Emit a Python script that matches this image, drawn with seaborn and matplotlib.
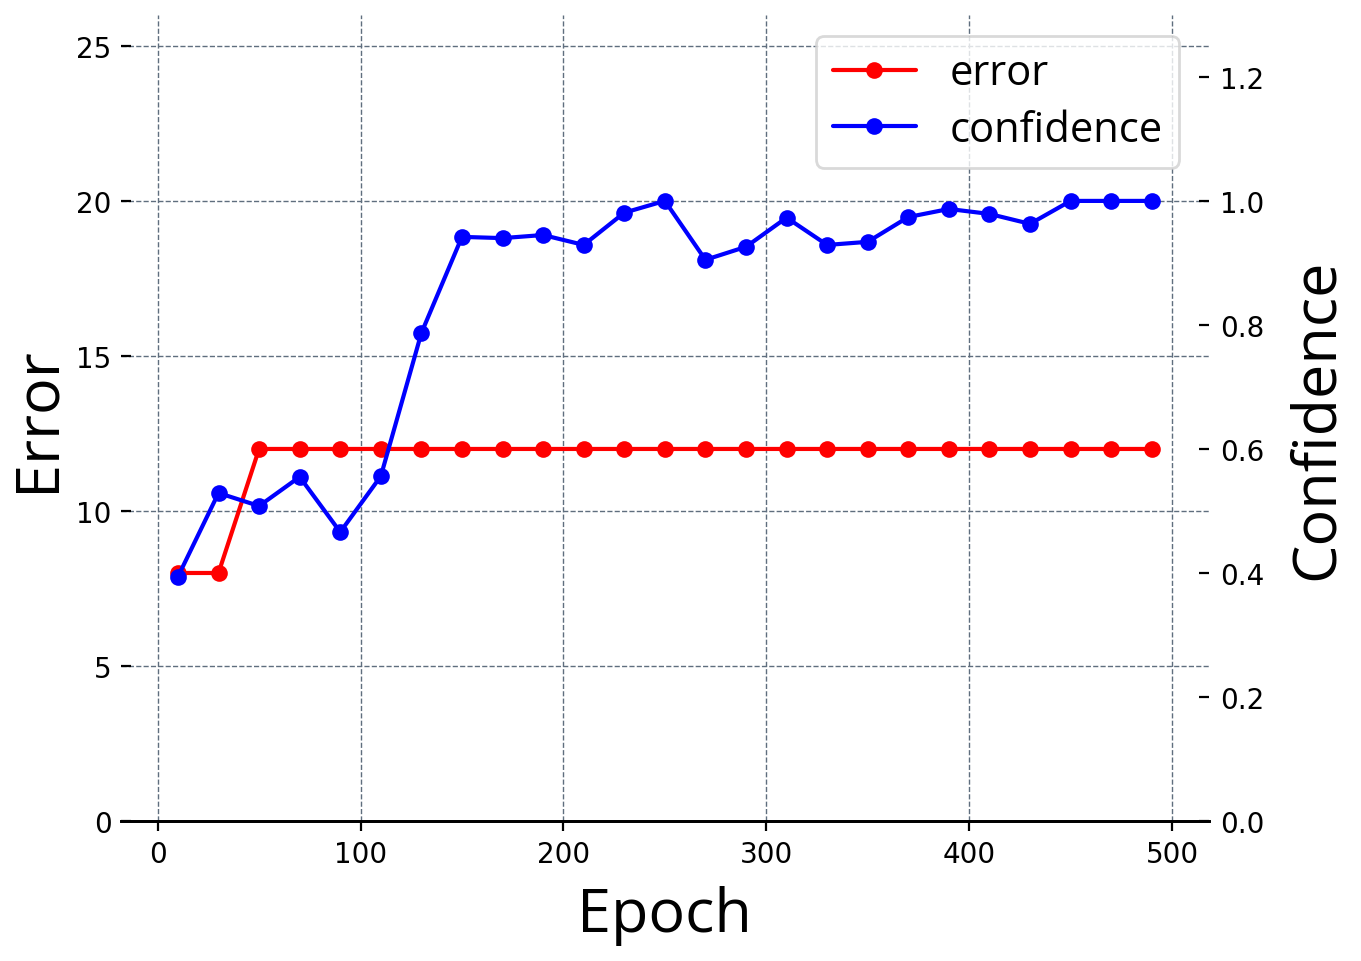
import numpy as np
import pandas as pd
import matplotlib.pyplot as plt
import seaborn as sns
from matplotlib.lines import Line2D

epochs = [10, 30, 50, 70, 90, 110, 130, 150, 170, 190, 210, 230, 250,
          270, 290, 310, 330, 350, 370, 390, 410, 430, 450, 470, 490]
error = [8, 8, 12, 12, 12, 12, 12, 12, 12, 12, 12, 12, 12,
         12, 12, 12, 12, 12, 12, 12, 12, 12, 12, 12, 12]
confidence = [0.394, 0.529, 0.508, 0.555, 0.466, 0.556, 0.787, 0.942, 0.940,
              0.945, 0.929, 0.981, 1.0, 0.905, 0.926, 0.973, 0.929, 0.934,
              0.974, 0.987, 0.979, 0.963, 1.0, 1.0, 1.0]

df = pd.DataFrame({'Epoch': epochs, 'error': error, 'confidence': confidence})

sns.set_style('white')
plt.rcParams['font.family'] = ['DejaVu Sans']
for key in ('text.color', 'axes.labelcolor', 'xtick.color', 'ytick.color'):
    plt.rcParams[key] = 'black'
label_font = ['Open Sans', 'DejaVu Sans']

fig = plt.figure(figsize=(6.805, 4.81), dpi=200)
ax = fig.add_axes([0.089, 0.1455, 0.799, 0.838])
ax2 = ax.twinx()

ms = 6
sns.lineplot(data=df, x='Epoch', y='error', ax=ax, color='red', marker='o',
             markersize=ms, markeredgewidth=0, linewidth=1.5)
sns.lineplot(data=df, x='Epoch', y='confidence', ax=ax2, color='blue', marker='o',
             markersize=ms, markeredgewidth=0, linewidth=1.5)

ax.set_xlim(-18, 518)
ax.set_ylim(0, 26)
ax2.set_ylim(0, 1.3)
ax.set_xticks([0, 100, 200, 300, 400, 500])
ax.set_yticks([0, 5, 10, 15, 20, 25])
ax2.set_yticks([0.0, 0.2, 0.4, 0.6, 0.8, 1.0, 1.2])

ax.grid(True, linestyle='--', linewidth=0.5, color='#5f6e7e')
ax2.grid(False)

for a in (ax, ax2):
    for side in ('top', 'left', 'right'):
        a.spines[side].set_visible(False)
    a.spines['bottom'].set_linewidth(1.0)
    a.spines['bottom'].set_color('black')

ax.tick_params(axis='x', direction='out', length=3.5, width=0.8, labelsize=10, bottom=True)
ax.tick_params(axis='y', direction='in', length=3.5, width=0.8, labelsize=10, left=True)
ax2.tick_params(axis='y', direction='in', length=3.5, width=0.8, labelsize=10, right=True, pad=4)

ax.set_xlabel('Epoch', fontsize=22, family=label_font, labelpad=6)
ax.set_ylabel('Error', fontsize=22, family=label_font, labelpad=3)
ax2.set_ylabel('Confidence', fontsize=22, family=label_font, labelpad=8)

handles = [Line2D([], [], color='red', marker='o', markersize=ms, markeredgewidth=0, linewidth=1.5),
           Line2D([], [], color='blue', marker='o', markersize=ms, markeredgewidth=0, linewidth=1.5)]
ax2.legend(handles, ['error', 'confidence'], loc='upper right',
           bbox_to_anchor=(0.973, 0.974), borderaxespad=0,
           prop={'family': label_font, 'size': 15}, labelspacing=0.35,
           frameon=True, edgecolor='#d0d0d0', handlelength=2.0, borderpad=0.4)

fig.savefig('out.png', dpi=200)
